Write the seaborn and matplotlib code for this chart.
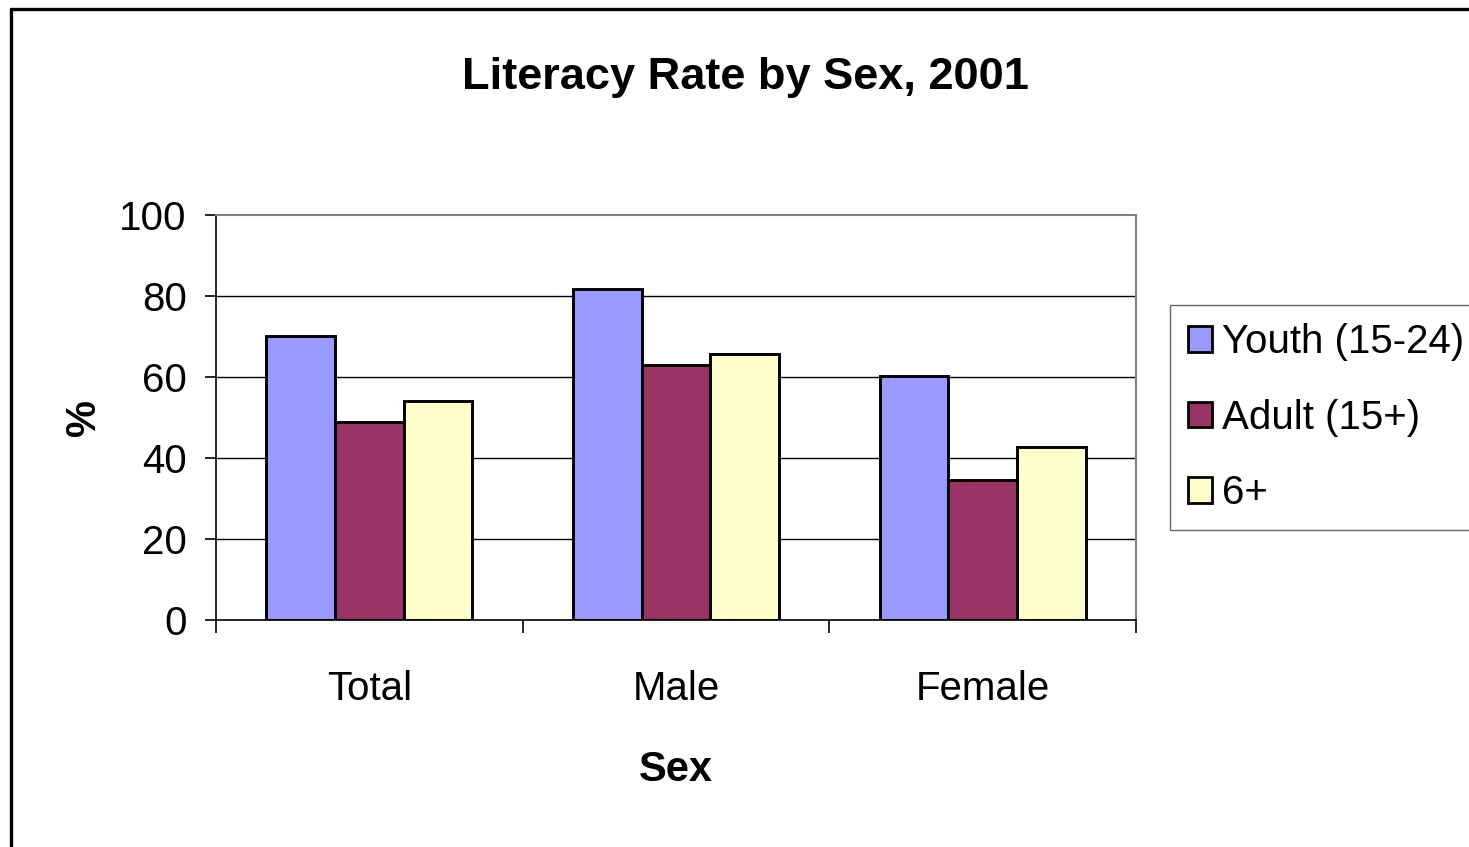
import matplotlib
matplotlib.use("Agg")
import matplotlib.pyplot as plt
import pandas as pd
import seaborn as sns
from matplotlib.lines import Line2D

categories = ["Total", "Male", "Female"]
series = ["Youth (15-24)", "Adult (15+)", "6+"]
youth = [70.2, 81.7, 60.3]
adult = [48.8, 63.0, 34.6]
six_plus = [54.1, 65.7, 42.6]
colors = ["#9999FF", "#993366", "#FFFFCC"]
yticks = [0, 20, 40, 60, 80, 100]


def main():
    rows = []
    for name, vals in zip(series, [youth, adult, six_plus]):
        for cat, v in zip(categories, vals):
            rows.append({"Sex": cat, "Group": name, "Rate": v})
    df = pd.DataFrame(rows)

    sns.set_theme(style="white")
    plt.rcParams["font.family"] = ["Liberation Sans", "DejaVu Sans"]
    plt.rcParams["text.color"] = "black"
    plt.rcParams["axes.labelcolor"] = "black"
    plt.rcParams["xtick.color"] = "black"
    plt.rcParams["ytick.color"] = "black"

    fig = plt.figure(figsize=(14.69, 8.47), dpi=100)
    fig.patch.set_facecolor("white")
    ax = fig.add_axes([216 / 1469, 1 - 620 / 847, 920 / 1469, 405 / 847])
    ax.set_facecolor("white")

    sns.barplot(
        data=df, x="Sex", y="Rate", hue="Group",
        order=categories, hue_order=series,
        palette=dict(zip(series, colors)), saturation=1,
        width=0.672, edgecolor="black", linewidth=2.1,
        ax=ax, zorder=3,
    )

    ax.set_ylim(0, 100)
    ax.set_xlim(-0.5, 2.5)
    ax.set_yticks(yticks)
    ax.set_yticklabels([str(t) for t in yticks], fontsize=29)
    ax.tick_params(axis="y", length=8, width=1.2, color="black", pad=13, direction="out", left=True)

    # boundary ticks on x, labels centred on groups
    ax.set_xticks([-0.5, 0.5, 1.5, 2.5])
    ax.set_xticklabels([])
    ax.tick_params(axis="x", which="major", length=9, width=1.2, color="black", direction="out", bottom=True)
    ax.set_xticks([0, 1, 2], minor=True)
    ax.set_xticklabels(categories, minor=True, fontsize=29)
    ax.tick_params(axis="x", which="minor", length=0, pad=36)

    for y in yticks[1:-1]:
        ax.axhline(y, color="black", linewidth=1.0, zorder=1)

    for side in ["top", "right"]:
        ax.spines[side].set_color("#808080")
        ax.spines[side].set_linewidth(1.5)
    for side in ["left", "bottom"]:
        ax.spines[side].set_color("black")
        ax.spines[side].set_linewidth(1.2)

    ax.set_xlabel("Sex", fontsize=30, fontweight="bold", labelpad=30)
    ax.set_ylabel("%", fontsize=30, fontweight="bold", labelpad=11)

    fig.text(745 / 1469, 1 - 77 / 847, "Literacy Rate by Sex, 2001",
             fontsize=32.5, fontweight="bold", ha="center", va="center")

    leg = ax.legend(
        loc="upper left", bbox_to_anchor=(1170 / 1469, 1 - 305 / 847),
        bbox_transform=fig.transFigure, fontsize=29, frameon=True,
        fancybox=False, edgecolor="#404040", handlelength=0.6, handleheight=0.6,
        handletextpad=0.25, labelspacing=0.93, borderpad=0.45, borderaxespad=0,
    )
    leg.get_frame().set_linewidth(1.0)
    for h in leg.legend_handles:
        h.set_edgecolor("black")
        h.set_linewidth(2.0)

    # outer chart frame (left and top edges visible)
    x0 = 11 / 1469
    y1 = 1 - 9 / 847
    fig.add_artist(Line2D([x0, x0], [0, y1], color="black", linewidth=2.4, transform=fig.transFigure))
    fig.add_artist(Line2D([x0, 1], [y1, y1], color="black", linewidth=2.4, transform=fig.transFigure))

    fig.savefig("out.png", dpi=100, facecolor="white")
    plt.close(fig)


if __name__ == "__main__":
    main()
